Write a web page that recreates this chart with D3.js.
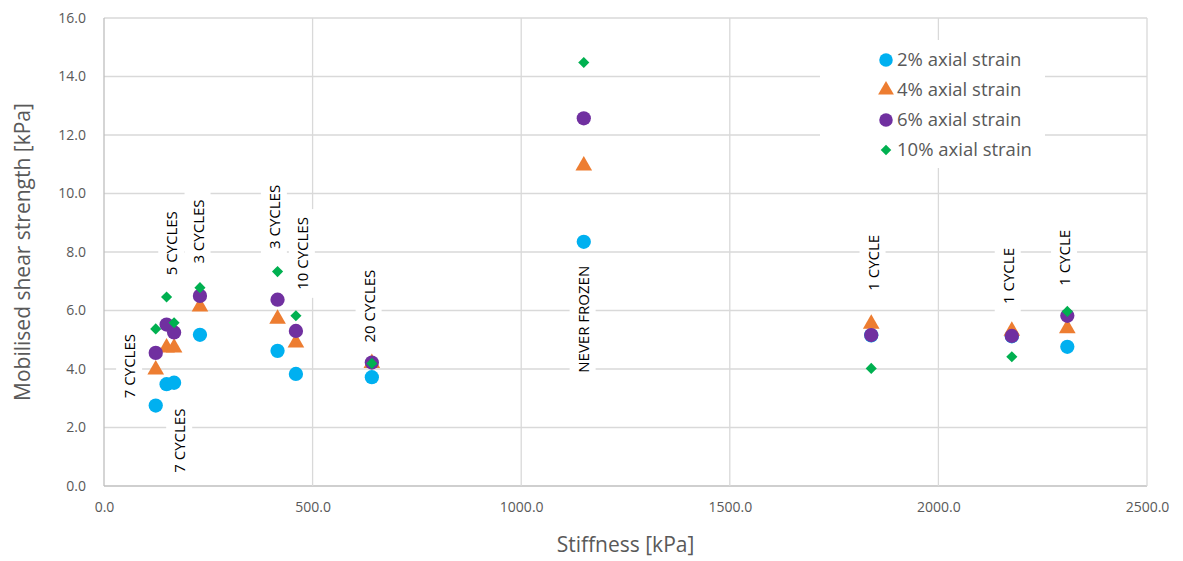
<!DOCTYPE html>
<html>
<head>
<meta charset="utf-8">
<script src="https://cdn.jsdelivr.net/npm/d3@7"></script>
<style>
  body { margin: 0; background: #fff; }
  text { font-family: "Open Sans", "Liberation Sans", sans-serif; }
</style>
</head>
<body>
<svg id="chart" width="1183" height="561"></svg>
<script>
// Stiffness [kPa] of each specimen
const stiffness = [124, 150, 168, 230, 416, 460, 642, 1150, 1839, 2176, 2309];

// Mobilised shear strength [kPa] per axial strain level
const strain2  = [2.75, 3.48, 3.53, 5.17, 4.62, 3.83, 3.72, 8.35, 5.15, 5.12, 4.76];
const strain4  = [3.98, 4.73, 4.73, 6.13, 5.71, 4.90, 4.20, 10.95, 5.54, 5.30, 5.39];
const strain6  = [4.55, 5.52, 5.25, 6.50, 6.37, 5.30, 4.22, 12.57, 5.16, 5.13, 5.82];
const strain10 = [5.37, 6.46, 5.58, 6.78, 7.33, 5.82, 4.19, 14.48, 4.02, 4.42, 5.97];

const seriesNames = ["2% axial strain", "4% axial strain", "6% axial strain", "10% axial strain"];
const seriesColors = ["#00b0f0", "#ed7d31", "#7030a0", "#00b050"];
const seriesShapes = [d3.symbolCircle, d3.symbolTriangle, d3.symbolCircle, d3.symbolSquare];

// Cycle labels, anchored in data units (centre of the rotated text)
const labelText = ["7 CYCLES", "5 CYCLES", "3 CYCLES", "7 CYCLES", "3 CYCLES", "10 CYCLES",
                   "20 CYCLES", "NEVER FROZEN", "1 CYCLE", "1 CYCLE", "1 CYCLE"];
const labelX = [62, 163, 226, 182, 409, 476, 636, 1149, 1844, 2168, 2303];
const labelY = [4.1, 8.3, 8.7, 1.55, 9.2, 7.95, 6.15, 5.7, 7.63, 7.18, 7.8];

const xTicks = [0, 500, 1000, 1500, 2000, 2500];
const yTicks = [0, 2, 4, 6, 8, 10, 12, 14, 16];

const svg = d3.select("#chart");
const margin = {left: 104, right: 36, top: 18, bottom: 75};
const width = 1183, height = 561;

const x = d3.scaleLinear().domain([0, 2500]).range([margin.left, width - margin.right]);
const y = d3.scaleLinear().domain([0, 16]).range([height - margin.bottom, margin.top]);

// gridlines
svg.append("g")
    .selectAll("line.hgrid")
    .data(yTicks)
    .join("line")
    .attr("x1", x(0)).attr("x2", x(2500))
    .attr("y1", d => y(d)).attr("y2", d => y(d))
    .attr("stroke", d => d === 0 ? "#bfbfbf" : "#d9d9d9")
    .attr("stroke-width", 1.3);

svg.append("g")
    .selectAll("line.vgrid")
    .data(xTicks)
    .join("line")
    .attr("y1", y(0)).attr("y2", y(16))
    .attr("x1", d => x(d)).attr("x2", d => x(d))
    .attr("stroke", d => d === 0 ? "#bfbfbf" : "#d9d9d9")
    .attr("stroke-width", 1.3);

// axes (labels only, lines drawn by the grid)
const xAxis = svg.append("g")
    .attr("transform", `translate(0,${y(0)})`)
    .call(d3.axisBottom(x).tickValues(xTicks).tickFormat(d3.format(".1f")).tickSize(0).tickPadding(16));
const yAxis = svg.append("g")
    .attr("transform", `translate(${x(0)},0)`)
    .call(d3.axisLeft(y).tickValues(yTicks).tickFormat(d3.format(".1f")).tickSize(0).tickPadding(18));
[xAxis, yAxis].forEach(a => {
    a.select(".domain").remove();
    a.selectAll("text")
        .attr("fill", "#595959")
        .style("font-size", "14px")
        .style("font-family", "'Open Sans', sans-serif");
});

// axis titles
svg.append("text")
    .attr("x", (x(0) + x(2500)) / 2)
    .attr("y", 552)
    .attr("text-anchor", "middle")
    .attr("fill", "#595959")
    .style("font-size", "21px")
    .text("Stiffness [kPa]");

svg.append("text")
    .attr("transform", `translate(30,${(y(0) + y(16)) / 2}) rotate(-90)`)
    .attr("text-anchor", "middle")
    .attr("fill", "#595959")
    .style("font-size", "21px")
    .text("Mobilised shear strength [kPa]");

// cycle labels with white boxes
const labels = svg.append("g")
    .selectAll("g")
    .data(labelText.map((t, i) => ({t, x: labelX[i], y: labelY[i]})))
    .join("g")
    .attr("transform", d => `translate(${x(d.x)},${y(d.y)}) rotate(-90)`);

labels.append("text")
    .attr("text-anchor", "middle")
    .attr("dy", "0.35em")
    .attr("fill", "#000")
    .style("font-size", "15px")
    .text(d => d.t);

labels.each(function() {
    const g = d3.select(this);
    const bb = g.select("text").node().getBBox();
    g.insert("rect", "text")
        .attr("x", bb.x - 8).attr("y", bb.y - 3)
        .attr("width", bb.width + 16).attr("height", bb.height + 6)
        .attr("fill", "#fff");
});

// points
const allSeries = [strain2, strain4, strain6, strain10];
const sizes = [160, 120, 160, 62];
const rot = [0, 0, 0, 45];

allSeries.forEach((vals, s) => {
    svg.append("g")
        .selectAll("path")
        .data(vals.map((v, i) => ({x: stiffness[i], y: v})))
        .join("path")
        .attr("transform", d => `translate(${x(d.x)},${y(d.y)}) rotate(${rot[s]})`)
        .attr("d", d3.symbol().type(seriesShapes[s]).size(sizes[s]))
        .attr("fill", seriesColors[s]);
});

// legend
const legend = svg.append("g").attr("transform", "translate(820,40)");
legend.append("rect")
    .attr("width", 225).attr("height", 128)
    .attr("fill", "#fff");

const items = legend.selectAll("g")
    .data(seriesNames)
    .join("g")
    .attr("transform", (d, i) => `translate(66,${20 + i * 30})`);

items.append("path")
    .attr("d", (d, i) => d3.symbol().type(seriesShapes[i]).size(sizes[i] * 0.9)())
    .attr("transform", (d, i) => `rotate(${rot[i]})`)
    .attr("fill", (d, i) => seriesColors[i]);

items.append("text")
    .attr("x", 11)
    .attr("dy", "0.35em")
    .attr("fill", "#595959")
    .style("font-size", "18.5px")
    .text(d => d);
</script>
</body>
</html>
